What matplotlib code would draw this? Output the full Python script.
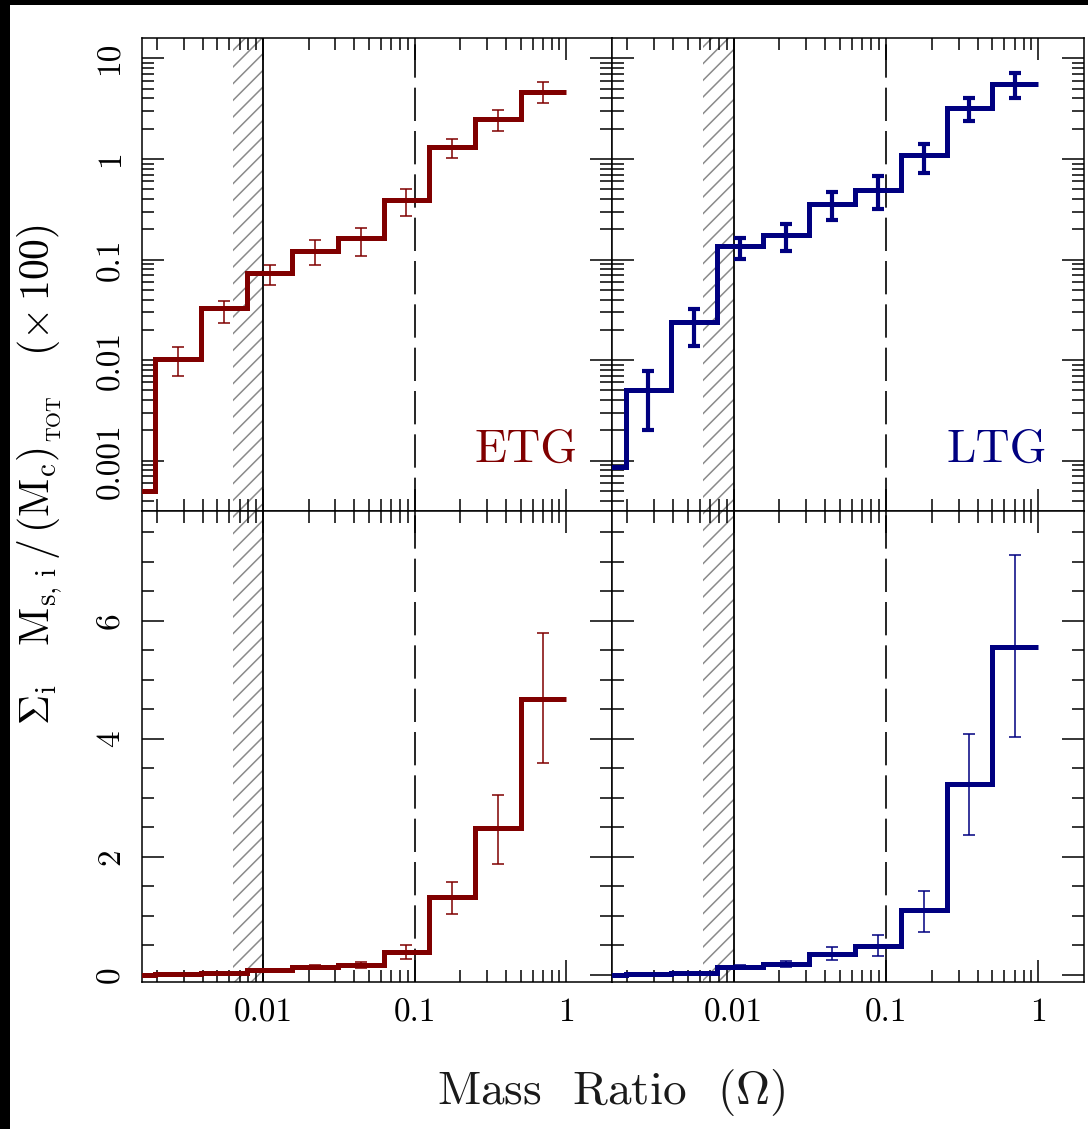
import numpy as np
import matplotlib
matplotlib.use("Agg")
import matplotlib.pyplot as plt
from matplotlib.patches import Rectangle
from matplotlib.ticker import LogLocator, MultipleLocator, NullFormatter, FixedLocator

plt.rcParams['font.family'] = ['cmr10', 'DejaVu Serif']
plt.rcParams['mathtext.fontset'] = 'cm'
plt.rcParams['axes.unicode_minus'] = False
plt.rcParams['axes.formatter.use_mathtext'] = True
plt.rcParams['hatch.linewidth'] = 1.1

# ---------------- data ----------------
bin_edges = [0.0009765625, 0.001953125, 0.00390625, 0.0078125, 0.015625,
             0.03125, 0.0625, 0.125, 0.25, 0.5, 1.0]

etg_values = [0.0005, 0.0102, 0.033, 0.073, 0.123, 0.165, 0.39, 1.31, 2.48, 4.68]
etg_low    = [np.nan, 0.0069, 0.0236, 0.056, 0.089, 0.108, 0.27, 1.02, 1.88, 3.58]
etg_high   = [np.nan, 0.0135, 0.039, 0.088, 0.155, 0.207, 0.50, 1.57, 3.05, 5.79]

ltg_values = [0.00087, 0.00505, 0.0242, 0.135, 0.174, 0.354, 0.49, 1.09, 3.24, 5.55]
ltg_low    = [np.nan, 0.0020, 0.0139, 0.101, 0.123, 0.25, 0.32, 0.73, 2.37, 4.03]
ltg_high   = [np.nan, 0.0078, 0.032, 0.162, 0.227, 0.47, 0.68, 1.42, 4.08, 7.12]

x_major = [0.01, 0.1, 1]
x_major_labels = ['0.01', '0.1', '1']
ylog_major = [0.001, 0.01, 0.1, 1, 10]
ylog_labels = ['0.001', '0.01', '0.1', '1', '10']
ylin_major = [0, 2, 4, 6]
ylin_labels = ['0', '2', '4', '6']

ETG_COLOR = '#800000'
LTG_COLOR = '#000080'

# ---------------- figure ----------------
W, H = 1088, 1129
fig = plt.figure(figsize=(W / 100, H / 100), dpi=100)
fig.patch.set_facecolor('white')


def px_axes(x0, y0, x1, y1):
    return fig.add_axes([x0 / W, 1 - y1 / H, (x1 - x0) / W, (y1 - y0) / H])


ax_tl = px_axes(141.7, 38.3, 611.7, 511)
ax_tr = px_axes(611.7, 38.3, 1084, 511)
ax_bl = px_axes(141.7, 511, 611.7, 981.7)
ax_br = px_axes(611.7, 511, 1084, 981.7)

edges = np.array(bin_edges)
centers = np.sqrt(edges[:-1] * edges[1:])

TICK_FS = 24


def style_axes(ax, logy, show_xlabels, show_ylabels):
    ax.set_xscale('log')
    ax.set_xlim(10 ** -2.8, 10 ** 0.3)
    ax.xaxis.set_major_locator(FixedLocator(x_major))
    ax.xaxis.set_minor_locator(LogLocator(base=10, subs=np.arange(2, 10)))
    ax.xaxis.set_minor_formatter(NullFormatter())
    if show_xlabels:
        ax.set_xticks(x_major, labels=x_major_labels)
    else:
        ax.set_xticks(x_major, labels=[''] * len(x_major))
    if logy:
        ax.set_yscale('log')
        ax.set_ylim(10 ** -3.5, 10 ** 1.2)
        ax.yaxis.set_minor_locator(LogLocator(base=10, subs=np.arange(2, 10), numticks=30))
        ax.yaxis.set_minor_formatter(NullFormatter())
        ax.set_yticks(ylog_major, labels=ylog_labels if show_ylabels else [''] * len(ylog_major))
    else:
        ax.set_ylim(-0.12, 7.86)
        ax.yaxis.set_minor_locator(MultipleLocator(0.5))
        ax.set_yticks(ylin_major, labels=ylin_labels if show_ylabels else [''] * len(ylin_major))
    ax.tick_params(which='both', direction='in', top=True, right=True,
                   width=1.1, color='black', labelsize=TICK_FS)
    ax.tick_params(which='major', length=16)
    ax.tick_params(which='minor', length=8.4)
    ax.tick_params(axis='y', pad=12)
    ax.tick_params(axis='x', pad=12)
    for lab in ax.get_yticklabels():
        lab.set_rotation(90)
        lab.set_va('center')
        lab.set_ha('right')
    for sp in ax.spines.values():
        sp.set_linewidth(1.1)
        sp.set_color('black')
    # hatched region and reference lines
    ax.axvspan(10 ** -2.2, 0.01, facecolor='none', edgecolor='#8a8a8a',
               hatch='//', lw=0, zorder=0.5)
    ax.axvline(0.01, color='black', lw=1.3, zorder=1)
    ax.axvline(0.1, color='black', lw=1.2, dashes=(20, 6), zorder=1)


style_axes(ax_tl, True, False, True)
style_axes(ax_tr, True, False, False)
style_axes(ax_bl, False, True, True)
style_axes(ax_br, False, True, False)


def draw(ax, vals, lo, hi, color, elw, cthick):
    v = np.array(vals)
    l = np.array(lo)
    h = np.array(hi)
    ax.stairs(v, edges, baseline=None, color=color, lw=3.6, zorder=3)
    ax.errorbar(centers, v, yerr=[v - l, h - v], fmt='none', ecolor=color,
                elinewidth=elw, capsize=4.6, capthick=cthick, zorder=4)


draw(ax_tl, etg_values, etg_low, etg_high, ETG_COLOR, 1.1, 1.1)
draw(ax_bl, etg_values, etg_low, etg_high, ETG_COLOR, 1.1, 1.1)
draw(ax_tr, ltg_values, ltg_low, ltg_high, LTG_COLOR, 3.0, 3.0)
draw(ax_br, ltg_values, ltg_low, ltg_high, LTG_COLOR, 1.1, 1.1)

ax_tl.text(0.928, 0.104, 'ETG', transform=ax_tl.transAxes, ha='right',
           va='baseline', fontsize=34, color=ETG_COLOR)
ax_tr.text(0.921, 0.104, 'LTG', transform=ax_tr.transAxes, ha='right',
           va='baseline', fontsize=34, color=LTG_COLOR)

ylabel = (r'$\Sigma_{\rm i}\ \ \ {\rm M}_{\rm s,\,i}\,/\,({\rm M}_{\rm c})'
          r'_{{}_{\rm TOT}}\ \ \ (\times\,100)$')
fig.text(40 / W, 1 - 475 / H, ylabel,
         rotation=90, ha='center', va='center', fontsize=30)
fig.text(611.7 / W, 1 - 1093 / H, r'Mass  Ratio  ($\Omega$)',
         ha='center', va='center', fontsize=34, color='#1a1a1a')

# dark border strips present in the reference image
fig.add_artist(Rectangle((0, 0), 10 / W, 1, transform=fig.transFigure,
                         facecolor='black', edgecolor='none'))
fig.add_artist(Rectangle((0, 1 - 4.5 / H), 1, 4.5 / H, transform=fig.transFigure,
                         facecolor='black', edgecolor='none'))

fig.savefig('out.png', dpi=100)
